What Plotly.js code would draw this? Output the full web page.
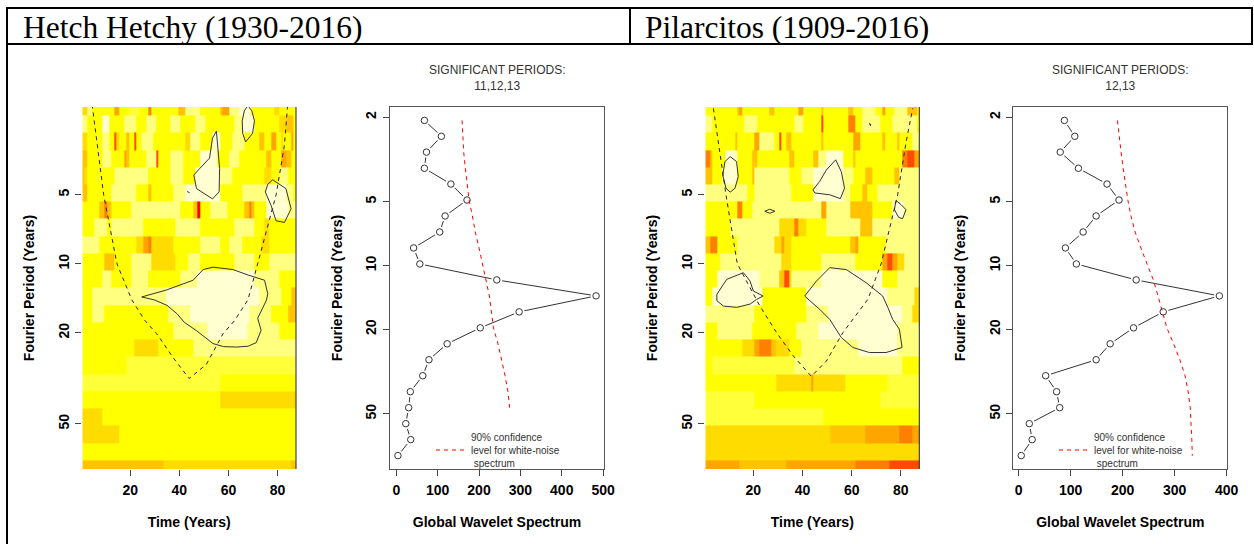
<!DOCTYPE html>
<html><head><meta charset="utf-8">
<script src="https://cdn.plot.ly/plotly-3.0.1.min.js"></script>
<style>html,body{margin:0;padding:0;background:#fff;} #chart{width:1254px;height:544px;}</style>
</head><body><div id="chart"></div>
<script>
// ---------------- DATA ----------------
// Fourier periods (years) of the wavelet scales
const periods = [2.07,2.46,2.92,3.48,4.13,4.91,5.84,6.95,8.26,9.83,11.69,13.90,16.53,19.66,23.38,27.80,33.06,39.32,46.76,55.61,66.13,78.65];
const nYears = 87;
const periodTicks = [2,5,10,20,50];
const timeTicks = [20,40,60,80];

// Global wavelet spectrum values per period
const hhGlobal = [68,109,73,68,132,171,118,105,42,57,243,483,297,203,123,79,64,34,30,23,35,4];
const pilGlobal = [88,108,80,115,170,193,149,124,90,111,226,386,278,221,176,149,52,73,79,20.5,26,5];
// 90% white-noise confidence level per period
const hhSignif = [159,161,163,167,171,176,184,191,200,208,216,225,230,235,246,255,263,270,274];
const pilSignif = [190,193,197,201,205,210,216,224,235,247,259,268,276,285,298,310,320,326,330,332,333,334];

const hhSigText = 'SIGNIFICANT PERIODS:<br>11,12,13';
const pilSigText = 'SIGNIFICANT PERIODS:<br>12,13';
const legendText = '90% confidence<br>level for white-noise<br> spectrum';

// Wavelet power level (0 = low/red ... 9 = high/pale) per period row, as "level@lastYear" runs
const hhRows = [
"5@2 8@4 6@13 3@15 6@19 7@23 6@27 2@28 6@39 4@42 8@48 6@56 4@57 3@60 8@64 9@69 6@78 5@80 6@87",
"8@2 6@8 9@11 6@17 8@22 6@26 8@30 6@36 8@40 6@46 8@50 6@62 8@65 9@70 6@80 5@83 4@86 6@87",
"5@2 6@8 8@11 6@13 1@14 5@15 6@18 4@19 6@21 1@22 6@24 8@29 6@42 5@44 8@48 6@53 9@56 6@61 8@66 6@72 4@74 6@77 3@79 6@81 5@82 6@85 3@86 6@87",
"4@2 6@8 8@12 6@17 3@18 4@19 6@26 8@30 1@31 6@36 8@41 6@48 9@55 6@60 8@64 6@75 4@77 6@81 3@83 4@85 6@87",
"4@1 5@2 6@13 8@27 6@36 8@41 6@46 9@56 8@61 6@74 5@77 6@80 8@84 6@87",
"4@2 6@12 8@22 6@27 4@28 6@37 8@42 9@56 6@65 8@75 9@83 8@86 6@87",
"6@7 4@9 2@10 4@12 6@20 8@40 6@45 4@47 0@48 6@52 8@59 6@66 4@68 2@69 4@70 6@75 9@84 8@87",
"6@5 8@10 6@12 8@25 6@38 8@48 6@62 8@70 6@74 5@76 6@87",
"8@7 6@22 5@25 3@27 2@28 5@37 6@48 8@56 6@60 8@65 6@73 5@76 6@87",
"6@9 4@13 6@20 8@28 5@38 6@43 8@48 6@62 8@70 6@76 8@87",
"6@8 8@12 6@20 8@27 6@40 8@47 9@70 8@80 6@87",
"6@4 8@34 9@72 8@81 6@85 4@87",
"6@4 8@9 6@35 8@44 9@68 8@77 6@84 4@87",
"6@37 8@51 9@67 8@80 6@87",
"6@21 5@31 6@45 8@87",
"6@18 7@87",
"7@56 6@87",
"6@56 5@87",
"5@8 6@87",
"5@15 6@87",
"6@87",
"4@33 5@85 4@87"
];
const pilRows = [
"6@13 4@14 3@15 6@26 4@28 6@38 3@40 6@47 4@48 6@58 4@60 6@64 8@69 6@72 3@73 6@77 8@82 4@86 6@87",
"8@3 6@16 8@21 6@36 8@40 6@47 1@48 6@58 2@61 6@64 8@71 6@76 8@86 6@87",
"6@12 4@13 6@20 3@22 8@28 6@30 1@31 6@33 4@35 6@47 4@48 6@60 3@63 6@72 4@73 6@78 4@79 6@84 8@87",
"2@2 4@3 6@8 9@13 6@19 4@21 6@34 4@36 6@44 4@46 8@49 9@56 6@60 4@61 6@80 2@82 1@85 3@87",
"4@3 6@7 9@13 6@19 4@20 8@34 6@39 8@44 9@56 8@60 6@65 4@68 6@77 4@79 8@87",
"8@17 6@20 8@35 6@44 9@56 8@59 6@64 4@66 6@70 8@87",
"6@13 2@15 6@19 8@47 3@49 8@59 4@68 6@76 9@81 8@87",
"6@10 8@30 5@36 2@38 5@41 6@49 8@63 4@68 8@87",
"4@2 2@5 6@13 8@28 5@31 3@32 5@35 6@59 4@61 3@62 6@73 8@87",
"6@6 8@31 5@35 6@47 8@61 6@72 3@74 1@76 3@78 5@81 8@87",
"6@5 9@22 8@30 4@32 1@34 5@35 8@47 9@72 6@78 8@87",
"6@3 9@23 6@41 9@74 8@85 5@87",
"8@20 6@41 8@50 9@80 8@84 5@87",
"6@5 8@19 6@37 8@46 9@78 8@87",
"6@15 5@20 3@22 2@27 4@29 5@34 6@39 8@62 9@78 8@87",
"6@3 7@36 8@80 6@87",
"6@29 5@43 3@44 5@57 6@74 7@87",
"7@20 6@71 7@87",
"7@48 6@87",
"5@51 4@65 3@79 2@84 3@87",
"5@87",
"3@14 4@33 3@61 2@75 1@87"
];

// Significance contours [year, period]
const hhContours = [
 [[67.9,2.04],[69.5,2.15],[70.6,2.38],[69.8,2.7],[67.0,2.94],[65.8,2.7],[65.6,2.38],[66.5,2.15]],
 [[55.1,2.64],[56.4,3.84],[56.2,4.86],[53.5,5.21],[47,4.7],[45.9,4.1],[48.3,3.84],[52.3,3.46],[53.5,2.83]],
 [[78,4.3],[83.4,4.7],[85.5,5.76],[82.8,6.6],[79.4,6.5],[77.4,5.58],[75,4.86],[76,4.5]],
 [[24.7,13.96],[30,14.4],[35,15.2],[39,16.5],[42,18],[47,19.6],[53.7,22.3],[58,23],[63.2,23.1],[68,22.9],[71.3,22.1],[73.3,19.5],[71.9,17.3],[74,15.4],[75.5,14.4],[76,13.5],[74.7,11.8],[68,11.2],[61.8,10.6],[53.7,10.35],[49.7,10.6],[45.6,11.8],[34.9,13.0]]
];
const hhTick = [[43.2,4.84],[44.2,4.9]];
const pilContours = [
 [[10.6,3.41],[13.2,3.58],[13.9,4.16],[12.6,4.68],[10.6,4.87],[8.9,4.68],[7.6,4.10],[8.5,3.58]],
 [[53.5,3.52],[55.8,3.97],[57.1,4.68],[55.4,5.2],[51.1,5.0],[45.0,4.91],[44.3,4.76],[47.0,4.37],[49.7,3.9]],
 [[24.7,5.9],[26.7,5.78],[28.8,5.9],[26.7,6.02]],
 [[78.1,5.31],[80.1,5.52],[82.1,5.81],[80.7,6.36],[79.1,6.27],[77.4,5.81],[77.8,5.43]],
 [[5.2,13.6],[9.2,11.7],[16,10.94],[18.7,11.9],[20,13.15],[24,13.83],[21.4,14.3],[18.7,15.0],[13.3,15.5],[7.9,15.3],[5.2,14.5]],
 [[40.9,13.83],[45.7,11.9],[51.1,10.4],[57.8,10.6],[65.9,12.1],[72.6,13.83],[74.7,15.5],[76.7,17.5],[79.4,19.3],[80.5,23.2],[74,24.4],[67.2,24.4],[60.5,23.2],[55.8,21.0],[51.1,17.5],[47,15.8],[43,14.5]],
 [[67.3,2.44],[67.9,2.48],[67.6,2.5]]
];
// Cone of influence [year, period]
const hhCoi = [[4.5,2.02],[6.5,3.04],[9.2,5],[14.6,10],[20.7,14.4],[26,17.7],[30.8,20.2],[37.5,25.7],[44,31.7],[51,27.5],[57.8,20.2],[62.5,17.7],[67.9,14.4],[71.9,10],[79.4,5],[82.8,3.04],[84.1,2.02]];
const pilCoi = [[3.8,2.1],[6,3.0],[8.9,5],[13.5,10],[20,13.6],[22.7,15.3],[29.5,20],[36.2,25.2],[43.6,31],[49.7,26.6],[56.4,20],[66.6,14.3],[72,10],[78.7,5],[82,3],[84.8,2.1]];

// ---------------- STYLE ----------------
const heatPalette = ['#FF0000','#FF4A00','#FF8000','#FFA500','#FFC300','#FFDC00','#FFFF00','#FFFF3A','#FFFF80','#FFFFD2'];
const W = 1254, H = 544;
const px = v => v / W, py = v => 1 - v / H;
const boldFont = {family:'Liberation Sans, Arial, sans-serif', size:14, color:'#000', weight:'bold'};
const headFont = {family:'Liberation Serif, Times New Roman, serif', size:31.5, color:'#000'};

// ---------------- BUILD ----------------
const years = [];
for (let i = 1; i <= nYears; i++) years.push(i);

function parseRows(rows) {
  return rows.map(r => {
    const out = [];
    r.trim().split(/\s+/).forEach(tok => {
      const [lv, end] = tok.split('@').map(Number);
      while (out.length < end) out.push(lv);
    });
    return out;
  });
}
const ratio = Math.sqrt(periods[1] / periods[0]);
const yEdges = [periods[0] / ratio];
for (let i = 1; i < periods.length; i++) yEdges.push(Math.sqrt(periods[i-1] * periods[i]));
yEdges.push(periods[periods.length-1] * ratio);

const colorscale = [];
heatPalette.forEach((c, i) => { colorscale.push([i/heatPalette.length, c]); colorscale.push([(i+1)/heatPalette.length, c]); });

function pathXY(list) {
  const x = [], y = [];
  list.forEach(poly => {
    poly.forEach(p => { x.push(p[0]); y.push(p[1]); });
    x.push(poly[0][0]); y.push(poly[0][1]);
    x.push(null); y.push(null);
  });
  return {x, y};
}

function heatTraces(rows, contours, extra, coi, xa, ya) {
  const cont = pathXY(contours);
  const t = [
    {type:'heatmap', x: years, y: yEdges, z: parseRows(rows), colorscale, zmin:-0.5, zmax: heatPalette.length-0.5,
     showscale:false, hoverinfo:'skip', xaxis:xa, yaxis:ya},
    {type:'scatter', mode:'lines', x: cont.x, y: cont.y, line:{color:'#333', width:1}, showlegend:false, xaxis:xa, yaxis:ya, hoverinfo:'skip'},
    {type:'scatter', mode:'lines', x: coi.map(p=>p[0]), y: coi.map(p=>p[1]), line:{color:'#222', width:1, dash:'4px,4px'}, showlegend:false, xaxis:xa, yaxis:ya, hoverinfo:'skip'}
  ];
  if (extra) t.push({type:'scatter', mode:'lines', x: extra.map(p=>p[0]), y: extra.map(p=>p[1]), line:{color:'#333', width:1}, showlegend:false, xaxis:xa, yaxis:ya, hoverinfo:'skip'});
  return t;
}

function gwsTraces(vals, signif, xa, ya, legendId) {
  return [
    {type:'scatter', mode:'lines', x: vals, y: periods, line:{color:'#333', width:1}, showlegend:false, xaxis:xa, yaxis:ya, hoverinfo:'skip'},
    {type:'scatter', mode:'markers', x: vals, y: periods, marker:{symbol:'circle', size:11, color:'#fff', line:{width:0}}, showlegend:false, xaxis:xa, yaxis:ya, hoverinfo:'skip'},
    {type:'scatter', mode:'markers', x: vals, y: periods, marker:{symbol:'circle-open', size:6.5, color:'#333', line:{width:1, color:'#333'}}, showlegend:false, xaxis:xa, yaxis:ya, hoverinfo:'skip'},
    {type:'scatter', mode:'lines', x: signif, y: periods.slice(0, signif.length), name: legendText, legend: legendId,
     line:{color:'#FF0000', width:1, dash:'4px,4px'}, showlegend:true, xaxis:xa, yaxis:ya, hoverinfo:'skip'}
  ];
}

const data = [].concat(
  heatTraces(hhRows, hhContours, hhTick, hhCoi, 'x', 'y'),
  gwsTraces(hhGlobal, hhSignif, 'x2', 'y2', 'legend'),
  heatTraces(pilRows, pilContours, null, pilCoi, 'x3', 'y3'),
  gwsTraces(pilGlobal, pilSignif, 'x4', 'y4', 'legend2')
);

const lp0 = Math.log10(periods[0]), lp1 = Math.log10(periods[periods.length-1]);
const pad = 0.04 * (lp1 - lp0);
function xAxis(domain, range, tickvals, title, anchor, mirror) {
  return {domain:[px(domain[0]), px(domain[1])], range, tickvals, anchor, ticks:'outside', ticklen:6, tickcolor:'#444',
    ticklabelstandoff: 2,
    tickfont: boldFont, showgrid:false, zeroline:false, showline: !!mirror, mirror: mirror ? true : false, linecolor:'#555', linewidth:1,
    title:{text:title, font: boldFont, standoff: 20}};
}
function yAxis(domain, range, anchor, mirror) {
  return {domain:[py(domain[1]), py(domain[0])], type:'log', range, tickvals: periodTicks, ticktext: periodTicks.map(String), anchor,
    tickangle:-90, ticks:'outside', ticklen:6, tickcolor:'#444', tickfont: boldFont, showgrid:false, zeroline:false,
    ticklabelstandoff: 1,
    showline: !!mirror, mirror: mirror ? true : false, linecolor:'#555', linewidth:1,
    title:{text:'Fourier Period (Years)', font: boldFont, standoff: 17}};
}
function gwsRange(v) { const mn = Math.min(...v), mx = Math.max(...v), d = 0.04*(mx-mn); return [mn-d, mx+d]; }

const yTop = 107, yBot = 469;
const legendFont = {family:'Liberation Sans, Arial, sans-serif', size:10, color:'#333'};
const layout = {
  width: W, height: H, margin:{l:0, r:0, t:0, b:0}, paper_bgcolor:'#fff', plot_bgcolor:'#fff',
  xaxis:  xAxis([82.3, 296], [0.5, nYears+0.5], timeTicks, 'Time (Years)', 'y'),
  yaxis:  yAxis([yTop, yBot], [lp1, lp0], 'x'),
  xaxis2: xAxis([390, 604], gwsRange(hhGlobal), [0,100,200,300,400,500], 'Global Wavelet Spectrum', 'y2', true),
  yaxis2: yAxis([yTop, yBot], [lp1+pad, lp0-pad], 'x2', true),
  xaxis3: xAxis([705.3, 919.3], [0.5, nYears+0.5], timeTicks, 'Time (Years)', 'y3'),
  yaxis3: yAxis([yTop, yBot], [lp1, lp0], 'x3'),
  xaxis4: xAxis([1013.3, 1227.3], gwsRange(pilGlobal), [0,100,200,300,400], 'Global Wavelet Spectrum', 'y4', true),
  yaxis4: yAxis([yTop, yBot], [lp1+pad, lp0-pad], 'x4', true),
  legend:  {x: px(431), y: py(424), xanchor:'left', yanchor:'top', bgcolor:'rgba(0,0,0,0)', borderwidth:0, itemwidth:30, font: legendFont},
  legend2: {x: px(1054), y: py(424), xanchor:'left', yanchor:'top', bgcolor:'rgba(0,0,0,0)', borderwidth:0, itemwidth:30, font: legendFont},
  shapes: [
    {type:'rect', xref:'paper', yref:'paper', x0:px(7), x1:px(1252), y0:py(8), y1:py(44), line:{color:'#000', width:2}},
    {type:'line', xref:'paper', yref:'paper', x0:px(630), x1:px(630), y0:py(8), y1:py(44), line:{color:'#000', width:2}},
    {type:'line', xref:'paper', yref:'paper', x0:px(7), x1:px(7), y0:py(44), y1:py(544), line:{color:'#000', width:2}},
    {type:'line', xref:'x domain', yref:'y domain', x0:1, x1:1, y0:0, y1:1, line:{color:'#222', width:1}},
    {type:'line', xref:'x3 domain', yref:'y3 domain', x0:1, x1:1, y0:0, y1:1, line:{color:'#222', width:1}}
  ],
  annotations: [
    {xref:'paper', yref:'paper', x:px(21), y:py(27.5), xanchor:'left', yanchor:'middle', showarrow:false,
     text:'Hetch Hetchy (1930-2016)', font: headFont},
    {xref:'paper', yref:'paper', x:px(643), y:py(27.5), xanchor:'left', yanchor:'middle', showarrow:false,
     text:'Pilarcitos (1909-2016)', font: headFont},
    {xref:'x2 domain', yref:'paper', x:0.5, y:py(78), xanchor:'center', yanchor:'middle', showarrow:false,
     text:hhSigText, font:{family:'Liberation Sans, Arial, sans-serif', size:12, color:'#333'}},
    {xref:'x4 domain', yref:'paper', x:0.5, y:py(78), xanchor:'center', yanchor:'middle', showarrow:false,
     text:pilSigText, font:{family:'Liberation Sans, Arial, sans-serif', size:12, color:'#333'}}
  ]
};

Plotly.newPlot('chart', data, layout, {staticPlot:true, displayModeBar:false});
</script></body></html>
